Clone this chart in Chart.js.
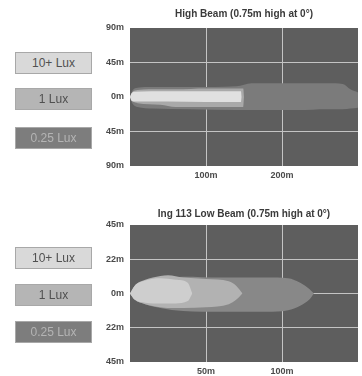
<!DOCTYPE html>
<html>
<head>
<meta charset="utf-8">
<script src="https://cdn.jsdelivr.net/npm/chart.js@4/dist/chart.umd.min.js"></script>
<style>
  html, body { margin: 0; padding: 0; background: #ffffff; }
  body { width: 362px; height: 376px; position: relative; overflow: hidden; font-family: "Liberation Sans", Arial, sans-serif; }
  canvas { position: absolute; left: 0; }
  #c1 { top: 0; }
  #c2 { top: 190px; }
  .lg { position: absolute; left: 15px; width: 75px; height: 20px; line-height: 20px; text-align: center;
        font-size: 12px; border: 1px solid #a8a8a8; }
</style>
</head>
<body>
<canvas id="c1" width="362" height="188"></canvas>
<canvas id="c2" width="362" height="186"></canvas>
<div id="legends"></div>
<script>
// ---------- Data ----------
const legendLabels = ['10+ Lux', '1 Lux', '0.25 Lux'];

// High beam chart
const hbTitle = 'High Beam (0.75m high at 0°)';
const hbXTicks = [100, 200];
const hbXTickLabels = ['100m', '200m'];
const hbYTicks = [-90, -45, 0, 45, 90];
const hbYTickLabels = ['90m', '45m', '0m', '45m', '90m'];
// 0.25 lux zone
const hbX025 = [0, 3, 10, 30, 80, 140, 160, 220, 260, 280, 290, 300];
const hbTop025 = [0, 8, 12, 13, 13, 14, 18, 18, 18, 17, 10, 6];
const hbBot025 = [0, -8, -13, -15, -16, -17, -17, -17, -16, -16, -15, -14];
// 1 lux zone
const hbX1 = [0, 3, 10, 40, 60, 100, 149, 150];
const hbTop1 = [0, 6, 9, 10, 10, 11, 11, 0];
const hbBot1 = [0, -5, -8, -10, -13, -13, -13, 0];
// 10+ lux zone
const hbX10 = [0, 2, 6, 50, 100, 146, 147];
const hbTop10 = [0, 5, 7, 7.5, 7.5, 7.5, 0];
const hbBot10 = [0, -5, -6, -6, -6.5, -6.5, 0];

// Low beam chart
const lbTitle = 'Ing 113 Low Beam (0.75m high at 0°)';
const lbXTicks = [50, 100];
const lbXTickLabels = ['50m', '100m'];
const lbYTicks = [-45, -22.5, 0, 22.5, 45];
const lbYTickLabels = ['45m', '22m', '0m', '22m', '45m'];
// 0.25 lux zone
const lbX025 = [0, 3, 10, 20, 35, 60, 90, 104, 112, 118, 121];
const lbTop025 = [0, 4, 8, 10, 11, 10.5, 10.5, 10, 7, 3, 0];
const lbBot025 = [0, -4, -7, -9.5, -11.5, -12, -12, -11, -8, -4, 0];
// 1 lux zone
const lbX1 = [0, 3, 10, 20, 25, 35, 50, 65, 70, 74];
const lbTop1 = [0, 5, 9, 11.5, 12, 10.5, 9.5, 8, 5, 0];
const lbBot1 = [0, -4, -7, -9, -9.5, -9.5, -9, -7, -4, 0];
// 10+ lux zone
const lbX10 = [0, 3, 10, 20, 30, 38, 41];
const lbTop10 = [0, 5, 8.5, 10, 9, 7, 0];
const lbBot10 = [0, -4, -6, -6.5, -6.5, -5, 0];

// ---------- Styles ----------
const legendStyles = [
  { bg: '#d9d9d9', fg: '#505050' },
  { bg: '#b5b5b5', fg: '#505050' },
  { bg: '#7d7d7d', fg: '#b4b4b4' }
];
const legendTops = [[52, 88, 127], [247, 284, 321]];
const plotBg = '#5e5e5e';
const zoneColors1 = { z025: '#7b7b7b', z1: '#a9a9a9', z10: '#e0e0e0' };
const zoneColors2 = { z025: '#888888', z1: '#b2b2b2', z10: '#cecece' };

// Legends
const lgWrap = document.getElementById('legends');
legendTops.forEach(tops => {
  legendLabels.forEach((lab, i) => {
    const d = document.createElement('div');
    d.className = 'lg';
    d.textContent = lab;
    d.style.top = tops[i] + 'px';
    d.style.background = legendStyles[i].bg;
    d.style.color = legendStyles[i].fg;
    lgWrap.appendChild(d);
  });
});

const bgPlugin = {
  id: 'plotBg',
  beforeDraw(chart) {
    const a = chart.chartArea, c = chart.ctx;
    c.save();
    c.fillStyle = plotBg;
    c.fillRect(a.left, a.top, a.right - a.left, a.bottom - a.top);
    c.restore();
  }
};

function pts(xs, ys) { return xs.map((x, i) => ({ x: x, y: ys[i] })); }

function zone(xs, top, bot, color, order) {
  const common = { pointRadius: 0, borderWidth: 0, cubicInterpolationMode: 'monotone', order: order };
  return [
    Object.assign({ data: pts(xs, top), fill: '+1', backgroundColor: color, borderColor: color }, common),
    Object.assign({ data: pts(xs, bot), fill: false, backgroundColor: color, borderColor: color }, common)
  ];
}

function makeChart(id, cfg) {
  const yMin = cfg.yTicks[0], yMax = cfg.yTicks[cfg.yTicks.length - 1];
  return new Chart(document.getElementById(id), {
    type: 'line',
    data: { datasets: [].concat(
      zone(cfg.x025, cfg.top025, cfg.bot025, cfg.colors.z025, 3),
      zone(cfg.x1, cfg.top1, cfg.bot1, cfg.colors.z1, 2),
      zone(cfg.x10, cfg.top10, cfg.bot10, cfg.colors.z10, 1)
    ) },
    options: {
      responsive: false,
      animation: false,
      layout: { padding: { left: 100, right: 4, top: 0, bottom: 0 } },
      plugins: {
        legend: { display: false },
        tooltip: { enabled: false },
        title: {
          display: true, text: cfg.title, fullSize: false,
          color: '#3a3a3a',
          font: { family: 'Liberation Sans', size: 10, weight: 'bold', lineHeight: 1.2 },
          padding: cfg.titlePad
        }
      },
      scales: {
        x: {
          type: 'linear', min: cfg.xMin, max: cfg.xMax, z: 1,
          afterBuildTicks: s => { s.ticks = cfg.xTicks.map(v => ({ value: v })); },
          afterFit: s => { s.height = cfg.xHeight; },
          grid: { color: '#c4c4c4', lineWidth: 1, drawTicks: false },
          border: { display: false },
          ticks: {
            padding: 4, color: '#4a4a4a',
            font: { family: 'Liberation Sans', size: 9, weight: 'bold' },
            callback: (v) => { const i = cfg.xTicks.indexOf(v); return i >= 0 ? cfg.xTickLabels[i] : ''; }
          }
        },
        y: {
          type: 'linear', min: yMin, max: yMax, z: 1,
          afterBuildTicks: s => { s.ticks = cfg.yTicks.map(v => ({ value: v })); },
          afterFit: s => { s.width = 30; },
          grid: {
            lineWidth: 1, drawTicks: false,
            color: c => (c.tick && (c.tick.value === yMin || c.tick.value === yMax)) ? 'rgba(0,0,0,0)' : '#c4c4c4'
          },
          border: { display: false },
          ticks: {
            padding: 6, color: '#4a4a4a',
            font: { family: 'Liberation Sans', size: 9, weight: 'bold' },
            callback: (v) => { const i = cfg.yTicks.indexOf(v); return i >= 0 ? cfg.yTickLabels[i] : ''; }
          }
        }
      }
    },
    plugins: [bgPlugin]
  });
}

makeChart('c1', {
  title: hbTitle, titlePad: { top: 8, bottom: 8 }, xHeight: 22,
  xMin: 0, xMax: 300, xTicks: hbXTicks, xTickLabels: hbXTickLabels,
  yTicks: hbYTicks, yTickLabels: hbYTickLabels, colors: zoneColors1,
  x025: hbX025, top025: hbTop025, bot025: hbBot025,
  x1: hbX1, top1: hbTop1, bot1: hbBot1,
  x10: hbX10, top10: hbTop10, bot10: hbBot10
});

makeChart('c2', {
  title: lbTitle, titlePad: { top: 18, bottom: 5 }, xHeight: 14,
  xMin: 0, xMax: 150, xTicks: lbXTicks, xTickLabels: lbXTickLabels,
  yTicks: lbYTicks, yTickLabels: lbYTickLabels, colors: zoneColors2,
  x025: lbX025, top025: lbTop025, bot025: lbBot025,
  x1: lbX1, top1: lbTop1, bot1: lbBot1,
  x10: lbX10, top10: lbTop10, bot10: lbBot10
});
</script>
</body>
</html>
